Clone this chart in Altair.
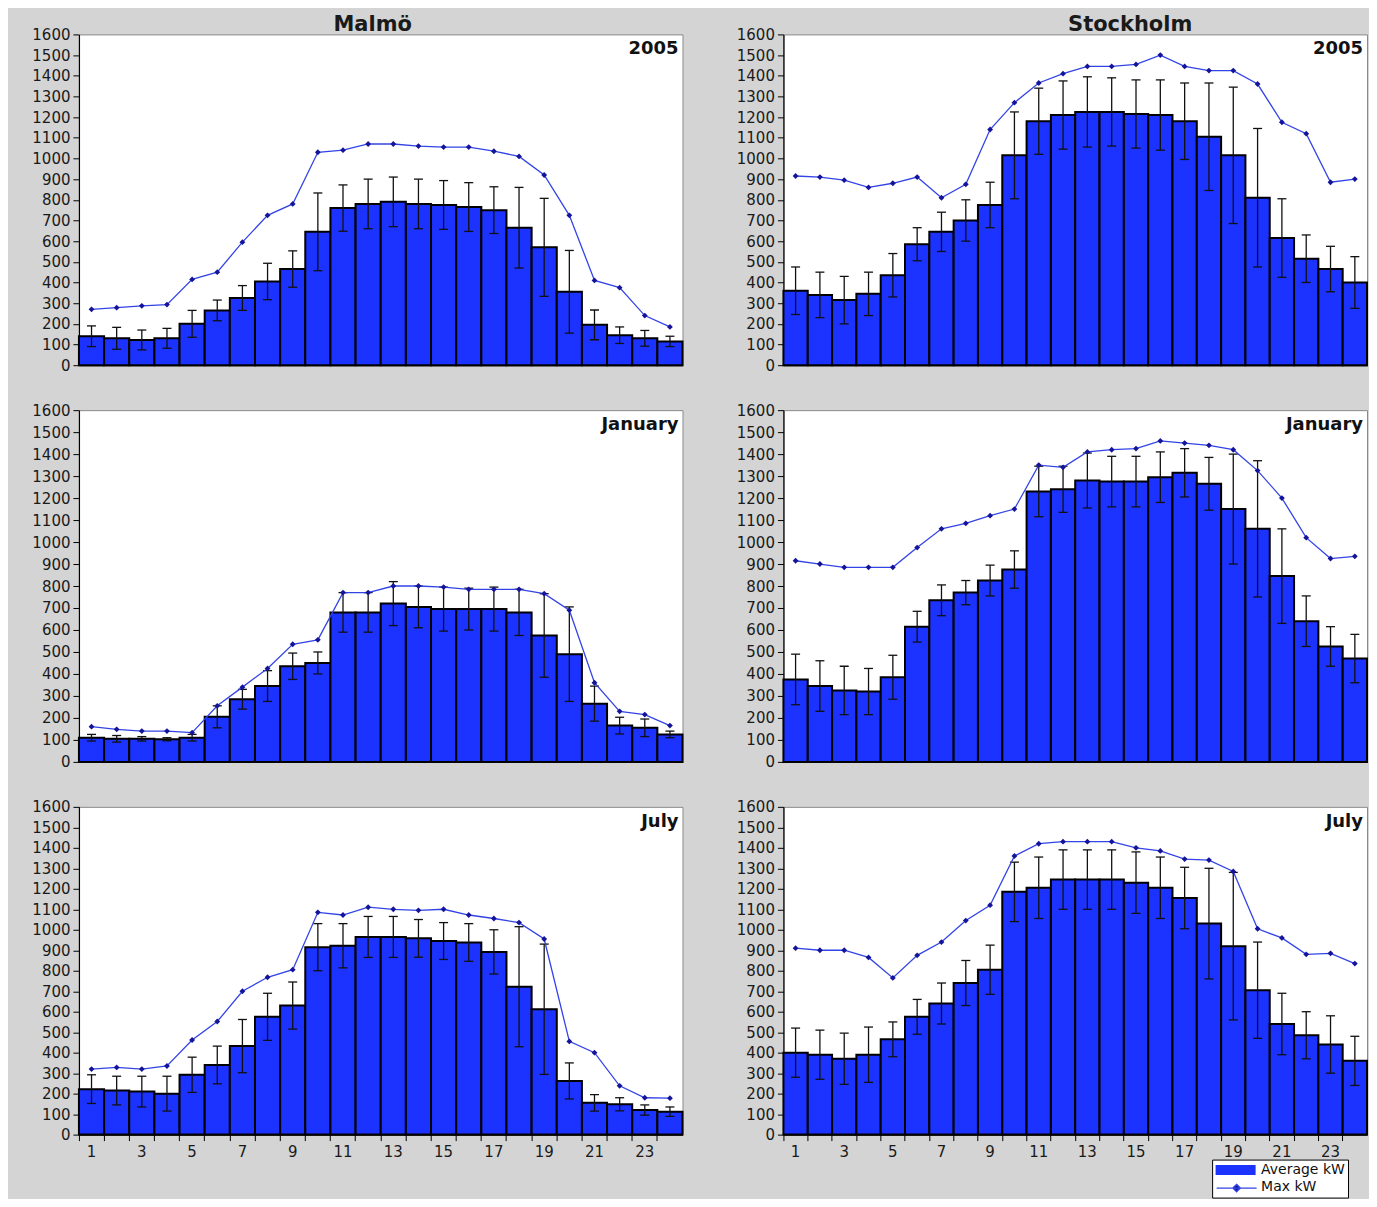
import altair as alt
import pandas as pd

HOURS = list(range(1, 25))
Y_TICKS = list(range(0, 1700, 100))
SERIES = ["Average kW", "Max kW"]

# Malmö
malmo_2005_avg = [140, 130, 122, 130, 200, 265, 325, 405, 465, 645, 760, 780, 790, 780, 775, 765, 750, 665, 570, 355, 195, 145, 130, 115]
malmo_2005_std = [50, 53, 48, 48, 65, 50, 60, 88, 88, 188, 112, 120, 120, 120, 118, 118, 113, 195, 237, 200, 72, 40, 38, 25]
malmo_2005_max = [270, 278, 287, 293, 415, 450, 595, 725, 780, 1030, 1040, 1070, 1070, 1060, 1055, 1055, 1035, 1010, 920, 725, 410, 375, 240, 185]

malmo_jan_avg = [110, 105, 105, 103, 110, 205, 285, 345, 435, 450, 680, 680, 720, 705, 695, 695, 695, 680, 575, 490, 265, 165, 155, 125]
malmo_jan_std = [15, 15, 10, 7, 15, 50, 45, 70, 60, 50, 90, 90, 100, 95, 100, 95, 100, 105, 190, 215, 80, 38, 40, 15]
malmo_jan_max = [160, 148, 140, 140, 133, 255, 340, 425, 535, 555, 770, 770, 800, 800, 795, 785, 785, 785, 765, 690, 360, 230, 215, 165]

malmo_jul_avg = [222, 215, 210, 200, 292, 340, 432, 575, 630, 915, 922, 965, 965, 958, 945, 938, 892, 722, 612, 262, 155, 148, 120, 112]
malmo_jul_std = [70, 70, 75, 85, 86, 92, 130, 115, 115, 115, 108, 100, 100, 92, 90, 92, 108, 293, 318, 88, 40, 32, 25, 23]
malmo_jul_max = [320, 328, 320, 335, 462, 552, 700, 768, 805, 1085, 1072, 1110, 1100, 1095, 1100, 1072, 1055, 1035, 955, 455, 400, 238, 180, 178]

# Stockholm
sthlm_2005_avg = [360, 340, 315, 345, 435, 585, 645, 700, 775, 1015, 1180, 1210, 1225, 1225, 1215, 1210, 1180, 1105, 1015, 810, 615, 515, 465, 400]
sthlm_2005_std = [115, 110, 115, 105, 105, 80, 95, 100, 110, 210, 160, 165, 170, 165, 165, 170, 185, 260, 330, 335, 190, 115, 110, 125]
sthlm_2005_max = [915, 910, 895, 860, 880, 910, 810, 875, 1140, 1270, 1365, 1410, 1445, 1445, 1455, 1500, 1445, 1425, 1425, 1360, 1175, 1120, 885, 900]

sthlm_jan_avg = [375, 345, 325, 320, 385, 615, 735, 770, 825, 875, 1230, 1240, 1280, 1275, 1275, 1295, 1315, 1265, 1150, 1060, 845, 640, 525, 470]
sthlm_jan_std = [115, 115, 110, 105, 100, 70, 70, 55, 70, 85, 115, 105, 125, 115, 115, 115, 110, 120, 250, 310, 215, 115, 90, 110]
sthlm_jan_max = [915, 900, 885, 885, 885, 975, 1060, 1085, 1120, 1150, 1350, 1340, 1410, 1420, 1425, 1460, 1450, 1440, 1420, 1325, 1200, 1020, 925, 935]

sthlm_jul_avg = [400, 390, 370, 390, 465, 575, 640, 740, 805, 1185, 1205, 1245, 1245, 1245, 1230, 1205, 1155, 1030, 920, 705, 540, 485, 440, 360]
sthlm_jul_std = [120, 120, 125, 135, 85, 85, 100, 110, 120, 145, 150, 145, 145, 145, 150, 150, 150, 270, 360, 235, 150, 115, 140, 120]
sthlm_jul_max = [910, 900, 900, 865, 765, 875, 940, 1045, 1120, 1360, 1420, 1430, 1430, 1430, 1400, 1385, 1345, 1340, 1285, 1005, 960, 880, 885, 835]

BLUE = "#1c32ff"
LINE = "#3344e6"
MARK = "#14149a"
BG = "#d4d4d4"
FONT = "DejaVu Sans"

RECT_PATH = "M-2.67,-0.67H2.67V0.67H-2.67Z"
LINE_PATH = "M-2.67,0H2.67M0,-0.5L0.5,0L0,0.5L-0.5,0Z"
LEG_X, LEG_Y = 1134, 1126


def panel(avg, std, mx, label, w, h, title=None, title_dx=0, xlabels=False, legend=False):
    df = pd.DataFrame({
        "hour": HOURS,
        "avg": avg,
        "lo": [a - s for a, s in zip(avg, std)],
        "hi": [a + s for a, s in zip(avg, std)],
        "max": mx,
        "sa": SERIES[0],
        "sm": SERIES[1],
    })
    base = alt.Chart(df)
    if xlabels:
        xaxis = alt.Axis(title=None, labelAngle=0,
                         labelExpr="datum.value % 2 == 1 ? datum.label : ''",
                         bandPosition=0, tickSize=6,
                         labelPadding=4, tickColor="black")
    else:
        xaxis = alt.Axis(title=None, labels=False, ticks=False)
    X = alt.X("hour:O", scale=alt.Scale(paddingInner=0, paddingOuter=0), axis=xaxis)
    yscale = alt.Scale(domain=[0, 1600], nice=False)
    yaxis = alt.Axis(title=None, values=Y_TICKS, format="d", labelOverlap=False,
                     tickSize=6, labelPadding=3)

    def Yf(field):
        return alt.Y(field, scale=yscale, axis=yaxis)

    if legend:
        leg_a = alt.Legend(
            title=None, orient="none", legendX=LEG_X, legendY=LEG_Y,
            direction="vertical", fillColor="white", strokeColor="black",
            padding=3, rowPadding=2, labelFont=FONT, labelFontSize=14,
            labelColor="#111", symbolType=RECT_PATH, symbolSize=225,
            symbolOffset=13, labelOffset=18, symbolStrokeWidth=0,
        )
        leg_b = alt.Legend(
            title=None, orient="none", legendX=LEG_X, legendY=LEG_Y + 17,
            direction="vertical", padding=3, labelExpr="''",
            symbolType=LINE_PATH, symbolSize=225, symbolOffset=13,
            symbolFillColor=MARK, symbolStrokeWidth=1.3, zindex=2,
        )
        bars = base.mark_bar(stroke="black", strokeWidth=2, opacity=1).encode(
            X, Yf("avg:Q"),
            fill=alt.Fill("sa:N", scale=alt.Scale(domain=SERIES, range=[BLUE, "transparent"]),
                          legend=leg_a))
        line = base.mark_line(strokeWidth=1.3).encode(
            X, Yf("max:Q"),
            stroke=alt.Stroke("sm:N", scale=alt.Scale(domain=["Max kW"], range=[LINE]), legend=leg_b))
    else:
        bars = base.mark_bar(fill=BLUE, stroke="black", strokeWidth=2, opacity=1).encode(X, Yf("avg:Q"))
        line = base.mark_line(color=LINE, strokeWidth=1.3).encode(X, Yf("max:Q"))

    rules = base.mark_rule(color="#111", strokeWidth=1.3).encode(X, Yf("lo:Q"), y2="hi:Q")
    cap_hi = base.mark_tick(color="#111", size=9, thickness=1.3, opacity=1).encode(X, Yf("hi:Q"))
    cap_lo = base.mark_tick(color="#111", size=9, thickness=1.3, opacity=1).encode(X, Yf("lo:Q"))
    pts = base.mark_point(shape="diamond", filled=True, color=MARK, size=34, opacity=1).encode(
        X, Yf("max:Q"))
    txt = alt.Chart(pd.DataFrame({"t": [label]})).mark_text(
        align="right", baseline="top", font=FONT, fontWeight="bold", fontSize=18, color="#111"
    ).encode(x=alt.value(w - 4), y=alt.value(6), text="t:N")

    ch = alt.layer(bars, rules, cap_hi, cap_lo, line, pts, txt).properties(width=w, height=h)
    if title:
        ch = ch.properties(title=alt.TitleParams(title, dx=title_dx, offset=-8, frame="group"))
    return ch


LW, RW = 604, 584
HS = 51
r1 = alt.hconcat(
    panel(malmo_2005_avg, malmo_2005_std, malmo_2005_max, "2005", LW, 331, title="Malmö", title_dx=-8),
    panel(sthlm_2005_avg, sthlm_2005_std, sthlm_2005_max, "2005", RW, 331, title="Stockholm", title_dx=55),
    spacing=HS,
)
r2 = alt.hconcat(
    panel(malmo_jan_avg, malmo_jan_std, malmo_jan_max, "January", LW, 352),
    panel(sthlm_jan_avg, sthlm_jan_std, sthlm_jan_max, "January", RW, 352),
    spacing=HS,
)
r3 = alt.hconcat(
    panel(malmo_jul_avg, malmo_jul_std, malmo_jul_max, "July", LW, 328, xlabels=True),
    panel(sthlm_jul_avg, sthlm_jul_std, sthlm_jul_max, "July", RW, 328, xlabels=True, legend=True),
    spacing=HS,
)

chart = alt.vconcat(r1, r2, r3, spacing=28).configure(
    background=BG,
    padding={"left": 23, "top": 5, "right": 0, "bottom": 0},
).configure_view(
    fill="white", stroke="#8a8a8a", strokeWidth=1
).configure_axis(
    labelFont=FONT, labelFontSize=15, labelColor="#1a1a1a",
    domainColor="black", tickColor="black", grid=False, domainWidth=1.2,
).configure_title(
    font=FONT, fontSize=21, fontWeight="bold", color="#1a1a1a"
)

chart.save("out.html", embed_options={"renderer": "svg", "actions": False})
